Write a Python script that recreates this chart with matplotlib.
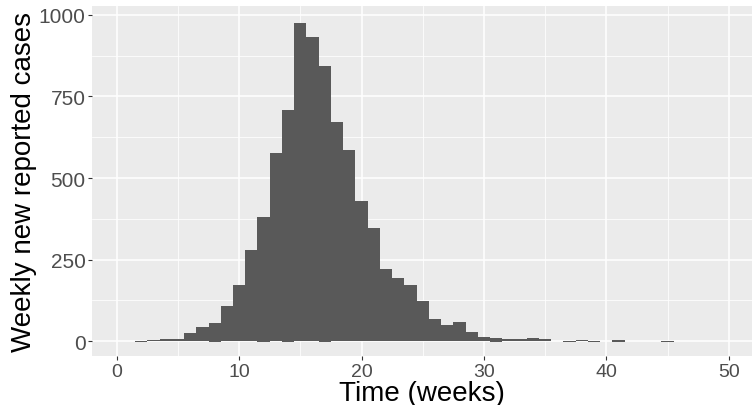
import matplotlib
matplotlib.use("Agg")
import matplotlib.pyplot as plt
from matplotlib.ticker import MultipleLocator

# Data
weeks = list(range(1, 50))
cases = [0, 1, 4, 6, 7, 26, 44, 56, 108, 172,
         280, 380, 577, 708, 975, 932, 843, 671, 586, 430,
         347, 221, 194, 172, 123, 68, 50, 59, 28, 13,
         10, 7, 7, 10, 7, 0, 0, 3, 0, 0,
         3, 0, 0, 0, 0, 0, 0, 0, 0]
corrections = [0, -3, 0, 0, 0, 0, 0, -3, 0, 0,
               0, -3, 0, -3, 0, 0, -3, 0, 0, 0,
               0, 0, 0, 0, 0, 0, 0, 0, 0, 0,
               -3, 0, 0, 0, 0, 0, -2, 0, -2, 0,
               -3, 0, 0, 0, -2, 0, 0, 0, 0]
x_ticks = [0, 10, 20, 30, 40, 50]
y_ticks = [0, 250, 500, 750, 1000]

plt.rcParams['font.family'] = ['Liberation Sans', 'DejaVu Sans']

W, H = 755, 406
fig = plt.figure(figsize=(W / 100, H / 100), dpi=100)
ax = fig.add_axes([92 / W, (H - 357) / H, (752 - 92) / W, (357 - 7) / H])

ax.set_facecolor('#EBEBEB')
for s in ax.spines.values():
    s.set_visible(False)

ax.bar(weeks, cases, width=1.0, color='#595959', linewidth=0, zorder=3)
ax.bar(weeks, corrections, width=1.0, color='#595959', linewidth=0, zorder=3)

ax.set_xlim(-2.02, 51.9)
ax.set_ylim(-45, 1027)
ax.set_xticks(x_ticks)
ax.set_yticks(y_ticks)
ax.xaxis.set_minor_locator(MultipleLocator(5))
ax.yaxis.set_minor_locator(MultipleLocator(125))

ax.grid(which='major', color='white', linewidth=1.1, zorder=1)
ax.grid(which='minor', color='white', linewidth=0.55, zorder=1)
ax.set_axisbelow(True)

ax.tick_params(axis='x', which='major', length=3, width=0.8, color='#333333',
               labelsize=14, labelcolor='#4D4D4D', pad=2)
ax.tick_params(axis='y', which='major', length=3, width=0.8, color='#333333',
               labelsize=15, labelcolor='#4D4D4D', pad=1.5)
ax.tick_params(which='minor', length=0)

ax.set_xlabel('Time (weeks)', fontsize=20, color='black', labelpad=0)
ax.set_ylabel('Weekly new reported cases', fontsize=20, color='black', labelpad=1)

fig.savefig('out.png', dpi=100)
